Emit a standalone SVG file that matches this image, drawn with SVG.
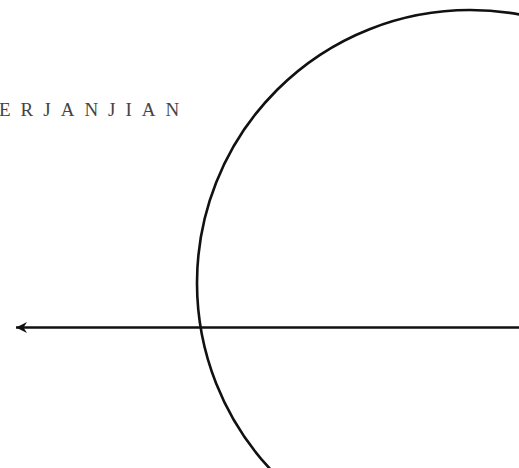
<svg xmlns="http://www.w3.org/2000/svg" width="519" height="468" viewBox="0 0 519 468">
<style>
.lbl{font-family:"Liberation Serif","DejaVu Serif",serif;font-size:19px;fill:#444;letter-spacing:10px}
.ln{fill:none;stroke:#111;stroke-width:2.6}
</style>
<defs>
<marker id="ah" markerWidth="12" markerHeight="12" refX="11" refY="6" orient="auto" markerUnits="userSpaceOnUse">
<path d="M11,6 L0,0.5 L3.5,6 L0,11.5 Z" fill="#111"/>
</marker>
</defs>
<rect width="519" height="468" fill="#fff"/>
<g id="label"><text class="lbl" x="-1" y="116">ERJANJIAN</text></g>
<g id="circle"><circle class="ln" cx="470" cy="283" r="273"/></g>
<g id="connectors"><line class="ln" x1="519" y1="327.5" x2="16" y2="327.5" marker-end="url(#ah)"/></g>
</svg>
